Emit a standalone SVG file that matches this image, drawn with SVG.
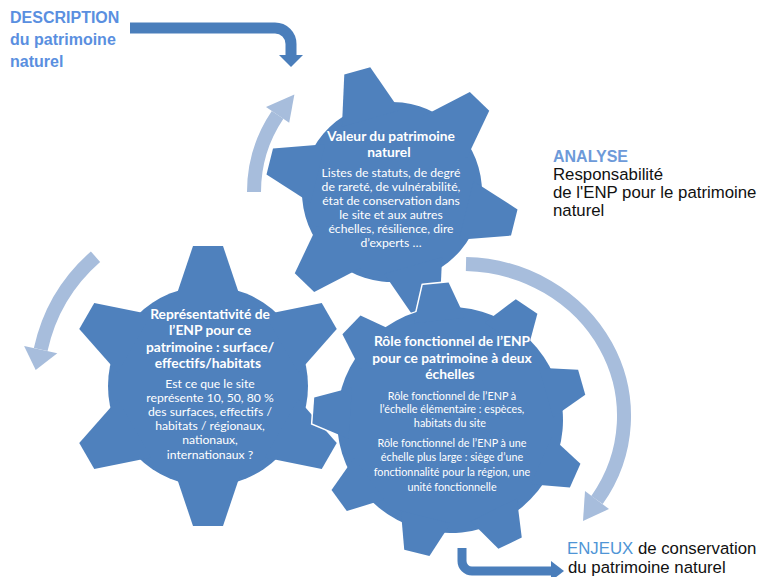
<svg xmlns="http://www.w3.org/2000/svg" xmlns:xlink="http://www.w3.org/1999/xlink" width="766" height="577" viewBox="0 0 766 577">
<style>
.lt{fill:none;stroke:#A7BDDC;stroke-width:14}
.lth{fill:#A7BDDC}
.dk{fill:none;stroke:#4A7EBB;stroke-width:11}
.dkh{fill:#4A7EBB}
.gt{font-family:Lato,"Open Sans",sans-serif;fill:#fff;text-anchor:middle}
.h{font-weight:bold;font-size:13.8px}
.b{font-size:12.2px}
.b2{font-size:10.8px}
.lbl{font-family:"Liberation Sans",Arial,sans-serif;font-size:16.8px;fill:#111}
</style>
<defs>
<polygon id="t6" points="-15,-140 15,-140 33.5,-85 -33.5,-85"/>
<polygon id="t9" points="-13,-137 13,-137 25.7,-100 -25.7,-100"/>
<g id="g6">
<circle r="100"/>
<use xlink:href="#t6"/><use xlink:href="#t6" transform="rotate(60)"/><use xlink:href="#t6" transform="rotate(120)"/>
<use xlink:href="#t6" transform="rotate(180)"/><use xlink:href="#t6" transform="rotate(240)"/><use xlink:href="#t6" transform="rotate(300)"/>
</g>
<g id="g9">
<circle r="113"/>
<use xlink:href="#t9"/><use xlink:href="#t9" transform="rotate(40)"/><use xlink:href="#t9" transform="rotate(80)"/>
<use xlink:href="#t9" transform="rotate(120)"/><use xlink:href="#t9" transform="rotate(160)"/><use xlink:href="#t9" transform="rotate(200)"/>
<use xlink:href="#t9" transform="rotate(240)"/><use xlink:href="#t9" transform="rotate(280)"/><use xlink:href="#t9" transform="rotate(320)"/>
</g>
</defs>
<rect width="766" height="577" fill="#fff"/>

<g id="gear-representativite">
<use xlink:href="#g6" transform="translate(208,386)" fill="#4F81BD" stroke="#fff" stroke-width="3"/>
<use xlink:href="#g6" transform="translate(208,386)" fill="#4F81BD"/>
<text class="gt"><tspan class="h" x="210" y="319">Représentativité de</tspan><tspan class="h" x="210" y="335">l’ENP pour ce</tspan><tspan class="h" x="210" y="352">patrimoine : surface/</tspan><tspan class="h" x="210" y="368">effectifs/habitats</tspan>
<tspan class="b" x="210" y="388">Est ce que le site</tspan><tspan class="b" x="210" y="402">représente 10, 50, 80 %</tspan><tspan class="b" x="210" y="416">des surfaces, effectifs /</tspan><tspan class="b" x="210" y="430">habitats / régionaux,</tspan><tspan class="b" x="210" y="444">nationaux,</tspan><tspan class="b" x="210" y="459">internationaux ?</tspan></text>
</g>

<g id="gear-valeur">
<use xlink:href="#g6" transform="translate(392,192) rotate(-16) scale(0.9)" fill="#4F81BD" stroke="#fff" stroke-width="3"/>
<use xlink:href="#g6" transform="translate(392,192) rotate(-16) scale(0.9)" fill="#4F81BD"/>
<text class="gt"><tspan class="h" x="391" y="141">Valeur du patrimoine</tspan><tspan class="h" x="391" y="157">naturel</tspan>
<tspan class="b" x="391" y="177">Listes de statuts, de degré</tspan><tspan class="b" x="391" y="191">de rareté, de vulnérabilité,</tspan><tspan class="b" x="391" y="205">état de conservation dans</tspan><tspan class="b" x="391" y="219">le site et aux autres</tspan><tspan class="b" x="391" y="233">échelles, résilience, dire</tspan><tspan class="b" x="391" y="247">d’experts …</tspan></text>
</g>

<g id="gear-role">
<use xlink:href="#g9" transform="translate(450,420) rotate(-6)" fill="#4F81BD" stroke="#fff" stroke-width="3"/>
<use xlink:href="#g9" transform="translate(450,420) rotate(-6)" fill="#4F81BD"/>
<text class="gt"><tspan class="h" x="452" y="346">Rôle fonctionnel de l’ENP</tspan><tspan class="h" x="452" y="363">pour ce patrimoine à deux</tspan><tspan class="h" x="452" y="379">échelles</tspan>
<tspan class="b2" x="452" y="400">Rôle fonctionnel de l’ENP à</tspan><tspan class="b2" x="452" y="413">l’échelle élémentaire : espèces,</tspan><tspan class="b2" x="452" y="427">habitats du site</tspan>
<tspan class="b2" x="452" y="447">Rôle fonctionnel de l’ENP à une</tspan><tspan class="b2" x="452" y="461">échelle plus large : siège d’une</tspan><tspan class="b2" x="452" y="476">fonctionnalité pour la région, une</tspan><tspan class="b2" x="452" y="491">unité fonctionnelle</tspan></text>
</g>

<g id="connectors">
<path class="lt" d="M254,192 A138,138 0 0 1 277.6,114.8"/>
<polygon class="lth" points="289.2,122.7 266,107 294.4,94.4"/>
<path class="lt" d="M95.5,256.7 A172,172 0 0 0 40.7,349.6"/>
<polygon class="lth" points="57.3,353.2 24.1,346.1 35.7,370"/>
<path class="lt" d="M466,264 A162,152 0 0 1 597,500"/>
<polygon class="lth" points="609,509 585,491 583,521"/>
<path class="dk" d="M130,28 H275 A16,16 0 0 1 291,44 V56"/>
<polygon class="dkh" points="279,55 303,55 291,67"/>
<path class="dk" style="stroke-width:9" d="M462,548 V561 A10,10 0 0 0 472,571 H552"/>
<polygon class="dkh" points="551,561 551,581 564,571"/>
</g>

<g id="label-description">
<text class="lbl" style="font-weight:bold;font-size:16px;fill:#5A8FE0"><tspan x="10" y="23">DESCRIPTION</tspan><tspan x="10" y="45">du patrimoine</tspan><tspan x="10" y="67">naturel</tspan></text>
</g>
<g id="label-analyse">
<text class="lbl"><tspan x="553" y="162" style="font-weight:bold;font-size:16px;fill:#6D9AD9">ANALYSE</tspan><tspan x="553" y="180">Responsabilité</tspan><tspan x="553" y="198">de l'ENP  pour le  patrimoine</tspan><tspan x="553" y="216">naturel</tspan></text>
</g>
<g id="label-enjeux">
<text class="lbl"><tspan x="567" y="554" style="fill:#4F95D6">ENJEUX</tspan><tspan> de conservation</tspan><tspan x="568" y="573">du patrimoine naturel</tspan></text>
</g>
</svg>
